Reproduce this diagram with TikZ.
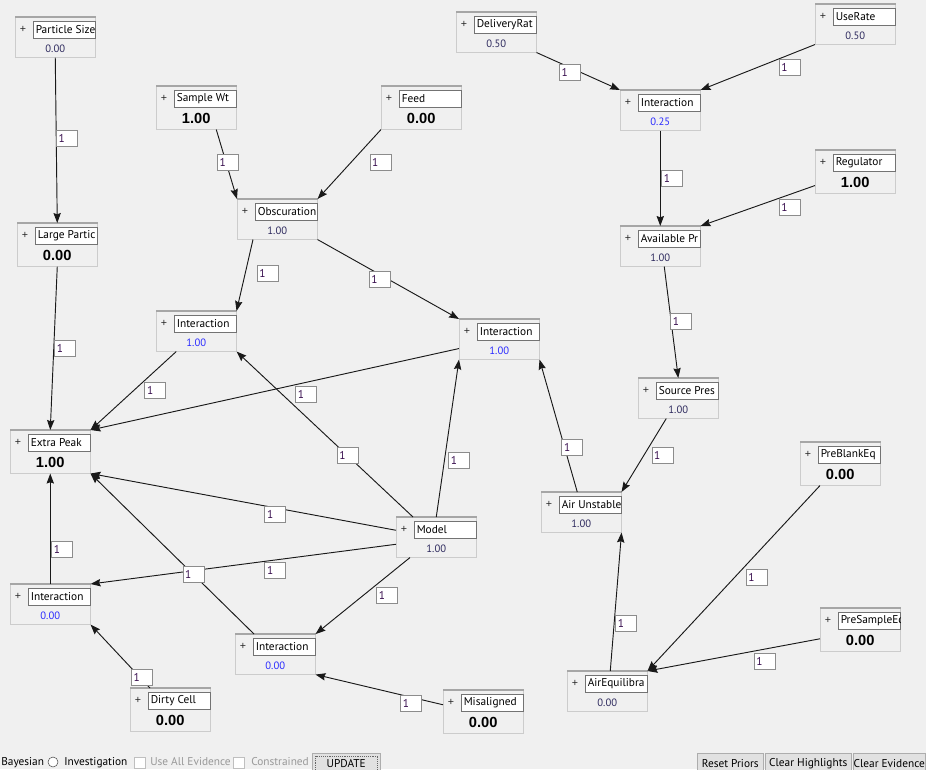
\documentclass[tikz,border=0pt]{standalone}
\usepackage{fontspec}
\setmainfont{PT Sans}
\newfontfamily\valfont{Liberation Sans}
\usepackage{tikz}
\usetikzlibrary{arrows.meta,calc}
\definecolor{panelbg}{HTML}{F0F0F0}
\definecolor{valcol}{HTML}{2E2A5E}
\definecolor{intcol}{HTML}{2B2BFF}
\definecolor{wtcol}{HTML}{3A1050}
\definecolor{btnfill}{HTML}{E1E1E1}
\definecolor{btnline}{HTML}{ADADAD}
% one network node: name, x, y, label, value, kind (plain/evid/inter)
\newcommand{\netnode}[6]{%
  \node[#6 box,anchor=north west] (#1) at (#2,#3) {};
  \draw[boxtop] (#1.north west) -- (#1.north east);
  \node[plusmark] (#1-plus) at ($(#1.north west)+(8,12.5)$) {+};
  \node[namebox,anchor=north west] (#1-name) at ($(#1.north west)+(18,4)$) {};
  \begin{scope}
    \clip (#1-name.south west) rectangle (#1-name.north east);
    \node[nametext,anchor=west] (#1-text) at ($(#1-name.west)+(2.5,0)$) {#4};
  \end{scope}
  \node[#6 val] (#1-val) at ($(#1.north)+(0,32)$) {#5};
}

\begin{document}
\begin{tikzpicture}[x=0.75pt,y=-0.75pt,
    plain box/.style={draw=black!20,fill=panelbg,minimum width=60pt,minimum height=30pt,inner sep=0pt},
    evid box/.style={plain box,minimum height=32.25pt},
    inter box/.style={plain box},
    boxtop/.style={draw=black!35,line width=1.2pt},
    plusmark/.style={font=\valfont\fontsize{8}{9}\selectfont,inner sep=0pt,text=black!85},
    namebox/.style={draw=black!55,fill=white,minimum width=46.5pt,minimum height=12.75pt,inner sep=0pt},
    nametext/.style={font=\fontsize{8.5}{9}\selectfont,inner sep=0pt},
    plain val/.style={font=\fontsize{8}{9}\selectfont,text=valcol,inner sep=0pt},
    evid val/.style={font=\valfont\bfseries\fontsize{11}{12}\selectfont,inner sep=0pt},
    inter val/.style={font=\fontsize{8}{9}\selectfont,text=intcol,inner sep=0pt},
    link/.style={draw=black!90,line width=0.7pt,-{Stealth[length=7.5pt,width=5.5pt,inset=1pt]}},
    wt/.style={draw=black!45,fill=white,minimum width=15.75pt,minimum height=12pt,inner sep=0pt,
      text width=12.5pt,align=left,font=\fontsize{8.5}{9}\selectfont,text=wtcol},
    bartext/.style={font=\fontsize{8.5}{9}\selectfont,inner sep=0pt},
    checkbox/.style={draw=black!25,fill=white,minimum size=8.25pt,inner sep=0pt},
    button/.style={draw=btnline,fill=btnfill,minimum height=15pt,inner sep=0pt,font=\fontsize{8.5}{9}\selectfont}]
  \useasboundingbox (0,0) rectangle (926,769);
  \clip (0,0) rectangle (926,769);
  \fill[panelbg] (0,0) rectangle (926,769);

  % ===== left part =====
  \netnode{ps}{15}{17}{Particle Size}{0.00}{plain}
  \netnode{lp}{17}{223}{Large Partic}{0.00}{evid}
  \netnode{sw}{156}{86}{Sample Wt}{1.00}{evid}
  \netnode{fd}{381}{86}{Feed}{0.00}{evid}
  \netnode{ob}{237}{199}{Obscuration}{1.00}{plain}
  \netnode{ia}{156}{311}{Interaction}{1.00}{inter}
  \netnode{ib}{459}{319}{Interaction}{1.00}{inter}
  \netnode{ep}{10}{430}{Extra Peak}{1.00}{evid}
  \netnode{md}{396}{517}{Model}{1.00}{plain}
  \netnode{ic}{10}{584}{Interaction}{0.00}{inter}
  \netnode{id}{235}{634}{Interaction}{0.00}{inter}
  \netnode{dc}{130}{688}{Dirty Cell}{0.00}{evid}
  \netnode{ma}{443}{690}{Misaligned}{0.00}{evid}

  % ===== right part =====
  \netnode{dr}{456}{12}{DeliveryRat}{0.50}{plain}
  \netnode{ur}{815}{4}{UseRate}{0.50}{plain}
  \netnode{ie}{620}{90}{Interaction}{0.25}{inter}
  \netnode{rg}{815}{150}{Regulator}{1.00}{evid}
  \netnode{ap}{620}{226}{Available Pr}{1.00}{plain}
  \netnode{sp}{638}{378}{Source Pres}{1.00}{plain}
  \netnode{au}{541}{492}{Air Unstable}{1.00}{plain}
  \netnode{pb}{800}{442}{PreBlankEq}{0.00}{evid}
  \netnode{pse}{820}{608}{PreSampleEq}{0.00}{evid}
  \netnode{ae}{567}{671}{AirEquilibra}{0.00}{plain}

  % ===== links =====
  \draw[link] (ps.south) -- node[wt,pos=.49,xshift=8pt]{1} (lp.north);
  \draw[link] (lp.south) -- node[wt,pos=.5,xshift=8.5pt]{1} (ep.north);
  \draw[link] ($(sw.south)+(20,0)$) -- node[wt,pos=.47,xshift=1.5pt]{1} (ob.north west);
  \draw[link] (fd.south west) -- node[wt,pos=.47,xshift=22pt]{1} (ob.north east);
  \draw[link] ($(ob.south west)+(16,0)$) -- node[wt,pos=.48,xshift=17pt]{1} (ia.north east);
  \draw[link] (ob.south east) -- node[wt,pos=.44,yshift=-3.5pt]{1} (ib.north west);
  \draw[link] ($(ia.south)+(-20,0)$) -- node[wt,pos=.5,xshift=16.5pt]{1} (ep.north east);
  \draw[link] ($(ib.south west)+(0,-11)$) -- node[wt,pos=.415,yshift=-9pt]{1} (ep.north east);
  \draw[link] ($(md.north west)+(17,0)$) -- node[wt,pos=.37]{1} (ia.south east);
  \draw[link] (md.north) -- node[wt,pos=.36,xshift=11pt]{1} (ib.south west);
  \draw[link] ($(md.west)+(0,-7)$) -- node[wt,pos=.395,yshift=-5pt]{1} (ep.south east);
  \draw[link] ($(md.west)+(0,7)$) -- node[wt,pos=.395,yshift=-8pt]{1} (ic.north east);
  \draw[link] ($(id.north west)+(19,0)$) -- node[wt,pos=.37]{1} (ep.south east);
  \draw[link] ($(md.south west)+(14,0)$) -- node[wt,pos=.24,yshift=-15pt]{1} (id.north east);
  \draw[link] (ic.north) -- node[wt,pos=.315,xshift=9pt]{1} (ep.south);
  \draw[link] ($(dc.north west)+(20,0)$) -- node[wt,pos=.17,xshift=1.5pt]{1} (ic.south east);
  \draw[link] ($(ma.west)+(0,-7)$) -- node[wt,pos=.25,yshift=-5pt]{1} (id.south east);
  \draw[link] (dr.south east) -- node[wt,pos=.4,yshift=-4pt]{1} (ie.north west);
  \draw[link] (ur.south west) -- node[wt,pos=.22,yshift=-10pt]{1} (ie.north east);
  \draw[link] (ie.south) -- node[wt,pos=.5,xshift=9pt]{1} (ap.north);
  \draw[link] ($(rg.south west)+(0,-8)$) -- node[wt,pos=.22,yshift=-10pt]{1} (ap.north east);
  \draw[link] ($(ap.south)+(4,0)$) -- node[wt,pos=.49,xshift=7.5pt]{1} (sp.north);
  \draw[link] ($(sp.south)+(-12,0)$) -- node[wt,pos=.5,xshift=14pt]{1} (au.north east);
  \draw[link] ($(au.north)+(-4,0)$) -- node[wt,pos=.34,xshift=6pt]{1} (ib.south east);
  \draw[link] ($(ae.north)+(3,0)$) -- node[wt,pos=.345,xshift=9pt]{1} (au.south east);
  \draw[link] ($(pb.south west)+(20,0)$) -- node[wt,pos=.495,xshift=16.5pt]{1} (ae.north east);
  \draw[link] ($(pse.west)+(0,9)$) -- node[wt,pos=.32,yshift=-9pt]{1} (ae.north east);

  % ===== bottom bar =====
  \node[bartext,anchor=base west] (bayes) at (1,765.5) {Bayesian};
  \node[draw=black!70,fill=white,circle,minimum size=7.5pt,inner sep=0pt] (radio) at (53,762) {};
  \node[bartext,anchor=base west] (invest) at (64,765.5) {Investigation};
  \node[checkbox,anchor=north west] (cbuse) at (134,757) {};
  \node[bartext,anchor=base west,text=black!40] (useall) at (150,765.5) {Use All Evidence};
  \node[checkbox,anchor=north west] (cbcon) at (233,757) {};
  \node[bartext,anchor=base west,text=black!40] (constr) at (251,765.5) {Constrained};
  \node[button,anchor=north west,minimum width=51pt] (update) at (312,753) {UPDATE};
  \draw[densely dotted,black!60] ($(update.north west)+(3,3)$) rectangle ($(update.south east)+(-3,-3)$);
  \node[button,anchor=north west,minimum width=49.5pt] (reset) at (697,753) {Reset Priors};
  \node[button,anchor=north west,minimum width=64.5pt] (clrhl) at (765,753) {Clear Highlights};
  \node[button,anchor=north west,minimum width=54pt] (clrev) at (853,753) {Clear Evidence};
\end{tikzpicture}
\end{document}
